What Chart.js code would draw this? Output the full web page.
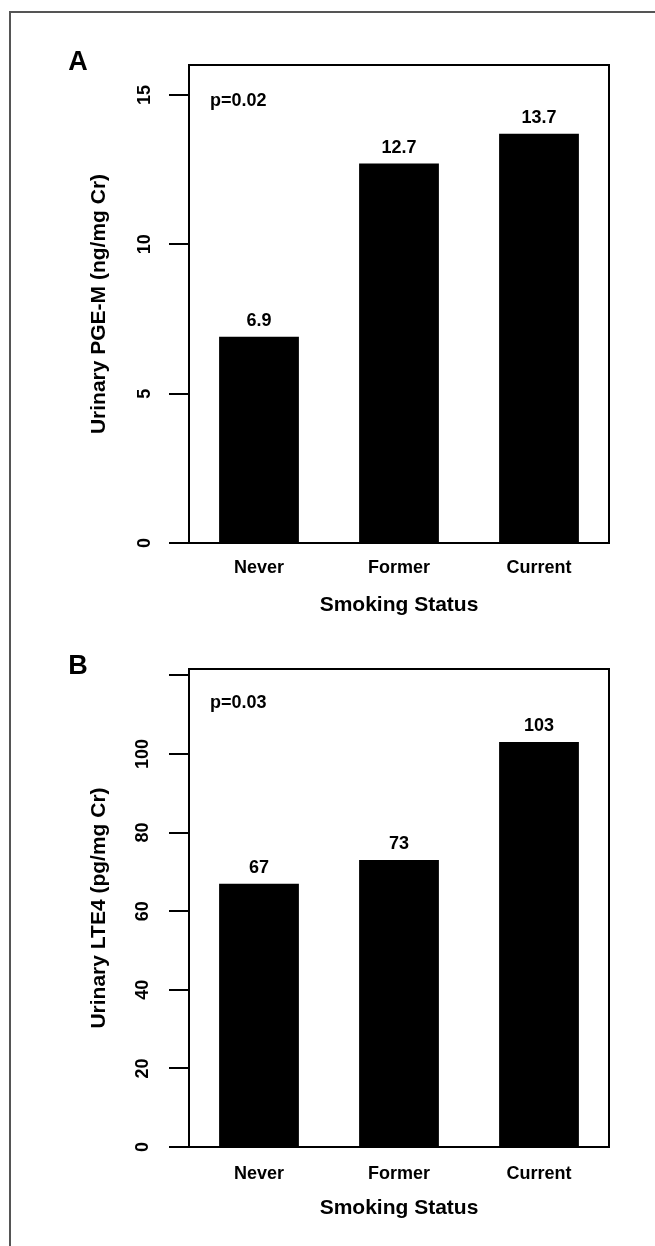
<!DOCTYPE html>
<html>
<head>
<meta charset="utf-8">
<script src="https://cdn.jsdelivr.net/npm/chart.js@4.4.1/dist/chart.umd.min.js"></script>
<style>
  body { margin: 0; background: #fff; }
  #page { position: relative; width: 655px; height: 1246px; overflow: hidden; background: #fff; }
  #frame { position: absolute; left: 9px; top: 11px; width: 700px; height: 1300px;
           border-left: 2px solid #555; border-top: 2px solid #555; }
  .panel { position: absolute; left: 0; width: 655px; height: 623px; }
</style>
</head>
<body>
<div id="page">
  <div id="frame"></div>
  <div class="panel" style="top:0px"><canvas id="chartA" width="655" height="623"></canvas></div>
  <div class="panel" style="top:623px"><canvas id="chartB" width="655" height="623"></canvas></div>
</div>
<script>
var categories = ['Never', 'Former', 'Current'];

// panel A: urinary PGE-M
var pgemValues = [6.9, 12.7, 13.7];
var pgemTicks = [0, 5, 10, 15];
var pgemTickLabels = ['0', '5', '10', '15'];

// panel B: urinary LTE4
var lte4Values = [67, 73, 103];
var lte4Ticks = [0, 20, 40, 60, 80, 100, 120];
var lte4TickLabels = ['0', '20', '40', '60', '80', '100', ''];

Chart.defaults.font.family = '"Liberation Sans", Arial, Helvetica, sans-serif';
Chart.defaults.color = '#000';

var bold = function (size) { return { size: size, weight: 'bold' }; };

// box around the plot, bar value labels, p-value and panel letter
var decor = {
  id: 'decor',
  afterDatasetsDraw: function (chart, args, opts) {
    var ctx = chart.ctx;
    var a = chart.chartArea;
    ctx.save();
    ctx.strokeStyle = '#000';
    ctx.lineWidth = 2;
    ctx.strokeRect(a.left, a.top, a.right - a.left, a.bottom - a.top);

    ctx.fillStyle = '#000';
    ctx.font = 'bold 18px "Liberation Sans", Arial, sans-serif';
    ctx.textAlign = 'center';
    ctx.textBaseline = 'middle';
    var meta = chart.getDatasetMeta(0);
    var vals = chart.data.datasets[0].data;
    meta.data.forEach(function (bar, i) {
      ctx.fillText(String(vals[i]), bar.x, bar.y - 16);
    });

    ctx.textAlign = 'left';
    ctx.fillText(opts.pText, a.left + 21, a.top + opts.pOffset);

    ctx.font = 'bold 27px "Liberation Sans", Arial, sans-serif';
    ctx.textAlign = 'center';
    ctx.fillText(opts.letter, 78, opts.letterY);
    ctx.restore();
  }
};

function makePanel(id, values, yMax, ticks, tickLabels, yTitle, p) {
  return new Chart(document.getElementById(id), {
    type: 'bar',
    data: {
      labels: categories,
      datasets: [{
        data: values,
        backgroundColor: '#000',
        borderWidth: 0,
        categoryPercentage: 1,
        barPercentage: 0.57
      }]
    },
    plugins: [decor],
    options: {
      responsive: false,
      animation: false,
      devicePixelRatio: 1,
      layout: { padding: { left: 0, right: 46, top: p.top, bottom: 0 } },
      plugins: {
        legend: { display: false },
        tooltip: { enabled: false },
        decor: { pText: p.pText, pOffset: p.pOffset, letter: p.letter, letterY: p.letterY }
      },
      scales: {
        x: {
          offset: true,
          grid: { display: false, drawTicks: false },
          border: { display: true, color: '#000', width: 2 },
          ticks: { font: bold(18), padding: p.xPad, maxRotation: 0 },
          title: { display: true, text: 'Smoking Status', font: bold(21),
                   padding: { top: 0, bottom: p.xTitlePad } },
          afterFit: function (s) { s.height = p.xHeight; }
        },
        y: {
          min: 0,
          max: yMax,
          afterBuildTicks: function (s) {
            s.ticks = ticks.map(function (v) { return { value: v }; });
          },
          border: { display: true, color: '#000', width: 2 },
          grid: { drawOnChartArea: false, drawTicks: true, tickLength: 20,
                  color: '#000', tickColor: '#000', lineWidth: 2 },
          ticks: {
            minRotation: 90, maxRotation: 90, crossAlign: 'center',
            padding: p.yPad, font: bold(18),
            callback: function (v, i) { return tickLabels[i]; }
          },
          title: { display: true, text: yTitle, font: bold(21),
                   padding: { top: 87, bottom: 0 } },
          afterFit: function (s) { s.width = 189; }
        }
      }
    }
  });
}

makePanel('chartA', pgemValues, 16, pgemTicks, pgemTickLabels,
  'Urinary PGE-M (ng/mg Cr)',
  { top: 65, xHeight: 80, xPad: 14, xTitlePad: 5, yPad: 14, pText: 'p=0.02', pOffset: 36, letter: 'A', letterY: 63 });

makePanel('chartB', lte4Values, 121.6, lte4Ticks, lte4TickLabels,
  'Urinary LTE4 (pg/mg Cr)',
  { top: 46, xHeight: 99, xPad: 16, xTitlePad: 25, yPad: 11, pText: 'p=0.03', pOffset: 34, letter: 'B', letterY: 44 });
</script>
</body>
</html>
